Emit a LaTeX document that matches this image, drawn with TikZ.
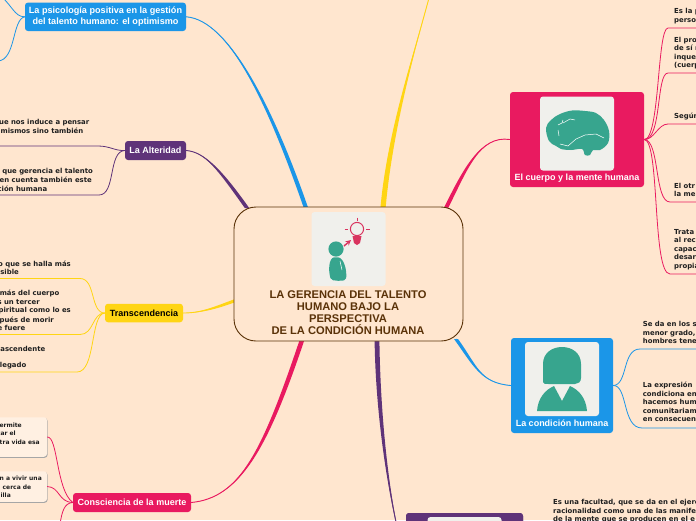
\documentclass[tikz,border=0pt]{standalone}
\usepackage{fontspec}
\setmainfont{Liberation Sans}
\newfontfamily\smallfont{DejaVu Sans}
\usetikzlibrary{calc}
\definecolor{bgc}{HTML}{FFE6CF}
\definecolor{bluec}{HTML}{1B96E8}
\definecolor{pinkc}{HTML}{E91A60}
\definecolor{purpc}{HTML}{5F3379}
\definecolor{yelc}{HTML}{FFD514}
\definecolor{brownc}{HTML}{5A3208}
\definecolor{imgc}{HTML}{F0F0EC}
\definecolor{tealc}{HTML}{37A58E}
\definecolor{cardc}{HTML}{FFF0E2}
\definecolor{bulbc}{HTML}{D9345F}
\tikzset{
  topic/.style={rounded corners=3pt,inner sep=0pt,font=\bfseries\fontsize{9}{11}\selectfont,align=center},
  imgbox/.style={fill=imgc,rounded corners=3pt,minimum width=74pt,minimum height=74pt,inner sep=0pt},
  br/.style={line width=.8pt},
  tx/.style={font=\smallfont\bfseries\fontsize{6.9}{8.55}\selectfont,text=black!88,inner sep=0pt,align=left,anchor=north west},
  txr/.style={font=\smallfont\bfseries\fontsize{6.9}{8.55}\selectfont,text=black!88,inner sep=0pt,anchor=east},
  txc/.style={font=\smallfont\bfseries\fontsize{6}{8.5}\selectfont,text=black!88,inner sep=0pt,anchor=east},
  card/.style={fill=cardc,rounded corners=3pt,inner sep=0pt},
}
% trunk: colour, start, control 1, control 2, end, half-width vector
\newcommand\trunk[6]{%
  \fill[#1] (#2) .. controls (#3) and ($(#4)+(#6)$) .. ($(#5)+(#6)$)
     -- ($(#5)-(#6)$) .. controls ($(#4)-(#6)$) and (#3) .. (#2) -- cycle;
  \draw[#1,line width=.9pt] (#2) .. controls (#3) and (#4) .. (#5);
}
\begin{document}
\begin{tikzpicture}[x=1pt,y=-1pt]
\useasboundingbox (0,0) rectangle (696,520);
\clip (0,0) rectangle (696,520);
\fill[bgc] (0,0) rectangle (696,520);

% main nodes
\node[topic,fill=bluec,text=white,minimum width=161pt,minimum height=28.5pt] (psi) at (105.5,16.8) {};
\node[topic,fill=purpc,text=white,minimum width=61pt,minimum height=19pt] (alt) at (155.5,150.5) {La Alteridad};
\node[topic,fill=yelc,text=black,minimum width=78pt,minimum height=18.5pt] (tra) at (144,313) {Transcendencia};
\node[topic,fill=pinkc,text=white,minimum width=118pt,minimum height=19pt] (con) at (132,502.5) {Consciencia de la muerte};
\node[topic,fill=pinkc,minimum width=134pt,minimum height=95pt] (cue) at (577,139.5) {};
\node[topic,fill=bluec,minimum width=102pt,minimum height=95pt] (cond) at (562,385.5) {};
\node[topic,fill=purpc,minimum width=117pt,minimum height=95pt] (fac) at (464.5,560.5) {};

\node[topic,text=white,align=center,font=\bfseries\fontsize{9.1}{10.2}\selectfont] (psit) at (105.5,16.6) {La psicología positiva en la gestión\\del talento humano: el optimismo};

% connection points on the central box
\coordinate (cA) at (306,208);
\coordinate (cB) at (247,208);
\coordinate (cC) at (234,301);
\coordinate (cD) at (302,340);
\coordinate (cE) at (377,340);
\coordinate (cF) at (456,339);
\coordinate (cG) at (446,208);
\coordinate (cH) at (383,208);
\coordinate (yt) at (429,-2);

% trunks
\trunk{bluec}{psi.east}{230,20}{272,110}{cA}{2.2,0}
\trunk{purpc}{alt.east}{205,152}{220,170}{cB}{2.2,0}
\trunk{yelc}{tra.east}{200,313}{215,308}{cC}{0,1.6}
\trunk{pinkc}{con.east}{240,498}{265,450}{cD}{2.4,0}
\trunk{purpc}{fac.west}{390,510}{378,420}{cE}{2.4,0}
\trunk{bluec}{cond.west}{480,383}{475,365}{cF}{2,0}
\trunk{pinkc}{cue.west}{480,135}{465,170}{cG}{2.2,0}
\trunk{yelc}{yt}{415,50}{390,130}{cH}{2.6,0}
% the boxes lie over the trunk ends
\node[topic,fill=purpc,minimum width=117pt,minimum height=95pt] at (fac) {};

% central topic
\node[draw=brownc,line width=.9pt,fill=bgc,rounded corners=22pt,minimum width=229pt,minimum height=134pt,inner sep=0pt] (main) at (348.5,274) {};
\node[imgbox] (mimg) at (348.5,249) {};
\node[inner sep=0pt,align=center,text=brownc,font=\bfseries\fontsize{11.15}{12}\selectfont] (mtext) at (348,313) {LA GERENCIA DEL TALENTO\\HUMANO BAJO LA\\PERSPECTIVA\\DE LA CONDICIÓN HUMANA};

% central icon
\fill[tealc] (336,249) circle (7.6);
\fill[tealc,rounded corners=2pt] (331,280) .. controls (328,270) and (329,258) .. (336,257) .. controls (344,258) and (347,270) .. (346,280) -- (340,281) -- cycle;
\draw[white,line width=.5pt] (340,261) -- (342,270);
\draw[bulbc,line width=1pt] (357,229) circle (6.6);
\fill[bulbc] (352.5,236) -- (361.5,236) -- (360,243) -- (357,245) -- (354,243) -- cycle;
\draw[bulbc,line width=1pt] (357,217.5) -- (357,220.5) (344.5,229) -- (348,229) (366,229) -- (369.5,229);
\draw[-stealth,bulbc,line width=1.4pt] (344,246) -- (351,240);

% right topic images
\node[imgbox] (bimg) at (577,133.5) {};
\node[imgbox] (cimg) at (562,379) {};
\node[imgbox] (fimg) at (464.5,554) {};
\node[inner sep=0pt,text=white,font=\bfseries\fontsize{9}{11}\selectfont] (cuet) at (577,178) {El cuerpo y la mente humana};
\node[inner sep=0pt,text=white,font=\bfseries\fontsize{9}{11}\selectfont] (condt) at (562,423) {La condición humana};

% brain
\fill[tealc] plot[smooth cycle,tension=.6] coordinates {(546,128) (551,120) (560,114) (572,110.5) (585,111) (596,113) (604,120) (609,131) (608,143) (600,150) (593,150) (590,155) (585,155) (582,149) (571,150) (561,149) (556,146) (549,141)};
\draw[white,line width=.5pt] (558,125) -- (562,123) -- (563,120) (563,123) -- (570,119) -- (575,120) (559,136) -- (558,130) (560,144) -- (568,146) -- (576,139) -- (585,135) -- (596,134) -- (604,138);

% female person
\fill[tealc] (543,382) -- (543,364) .. controls (543,353) and (552,347) .. (562,347) .. controls (572,347) and (581,353) .. (581,364) -- (581,378) .. controls (581,382) and (578,384) .. (575,384) -- (549,384) .. controls (545,384) and (543,384) .. (543,382) -- cycle;
\fill[tealc] (537,411) .. controls (538,398) and (545,390) .. (554,386) -- (562,401) -- (570,386) .. controls (579,390) and (586,398) .. (587,411) -- cycle;

% left branches
\coordinate (l1) at (-2,-6);
\coordinate (l2) at (-2,61);
\draw[br,bluec] (psi.west) .. controls (14,17) and (12,4) .. (l1);
\draw[br,bluec] (psi.west) .. controls (12,19) and (16,60) .. (l2);
\coordinate (l3) at (0,146);
\coordinate (l4) at (0,195);
\draw[br,purpc] (alt.west) .. controls (115,151) and (110,146) .. (98,146) -- (l3);
\draw[br,purpc] (alt.west) .. controls (108,151) and (116,195) .. (99,195) -- (l4);
\coordinate (l5) at (0,278.5);
\coordinate (l6) at (0,334.5);
\coordinate (l7) at (0,372);
\draw[br,yelc] (tra.west) .. controls (90,313) and (96,278.5) .. (80,278.5) -- (l5);
\draw[br,yelc] (tra.west) .. controls (92,313) and (94,334.5) .. (80,334.5) -- (l6);
\draw[br,yelc] (tra.west) .. controls (90,314) and (96,372) .. (77,372) -- (l7);

% cards
\fill[black!35,rounded corners=3pt] (-5,418) rectangle (47.6,457.8);
\node[card,minimum width=52pt,minimum height=39.5pt] (c1) at (21,437) {};
\fill[black!35,rounded corners=3pt] (-5,472) rectangle (47.6,502.8);
\node[card,minimum width=52pt,minimum height=30.5pt] (c2) at (21,486.5) {};
\coordinate (l8) at (60,524);
\draw[br,pinkc] (c1.east) .. controls (58,436) and (56,490) .. (con.west);
\draw[br,pinkc] (c2.east) .. controls (60,487) and (58,502) .. (con.west);
\draw[br,pinkc] (con.west) .. controls (64,503) and (62,512) .. (l8);

% right branches
\coordinate (r1) at (696,28);
\coordinate (r2) at (696,73);
\coordinate (r3) at (696,124);
\coordinate (r4) at (696,202);
\coordinate (r5) at (696,274);
\draw[br,pinkc] (cue.east) .. controls (660,140) and (657,28) .. (668,28) -- (r1);
\draw[br,pinkc] (cue.east) .. controls (662,140) and (656,73) .. (668,73) -- (r2);
\draw[br,pinkc] (cue.east) .. controls (654,140) and (658,124) .. (668,124) -- (r3);
\draw[br,pinkc] (cue.east) .. controls (660,140) and (654,202) .. (670,202) -- (r4);
\draw[br,pinkc] (cue.east) .. controls (660,140) and (652,274) .. (670,274) -- (r5);
\coordinate (r6) at (696,349);
\coordinate (r7) at (696,428);
\draw[br,bluec] (cond.east) .. controls (628,385) and (622,349) .. (640,349) -- (r6);
\draw[br,bluec] (cond.east) .. controls (628,385) and (622,428) .. (642,428) -- (r7);

% texts on the left, cut by the picture edge
\node[txr] (t1) at (89.5,122.3) {ue nos induce a pensar};
\node[txr] (t2) at (83.5,130.5) {mismos sino también};
\node[txr] (t3) at (93,171.5) {que gerencia el talento};
\node[txr] (t4) at (92,180) {en cuenta también este};
\node[txr] (t5) at (47.5,188.5) {ción humana};
\node[txr] (t6) at (71,264) {o que se halla más};
\node[txr] (t7) at (19,272) {sible};
\node[txr] (t8) at (59.5,293.5) {más del cuerpo};
\node[txr] (t9) at (40,302.5) {s un tercer};
\node[txr] (t10) at (71,311) {piritual como lo es};
\node[txr] (t11) at (54,320) {pués de morir};
\node[txr] (t12) at (25.5,328) {e fuere};
\node[txr] (t13) at (45.5,348.5) {ascendente};
\node[txr] (t14) at (26.5,366) {legado};
\node[txc] (t15) at (22,425.5) {permite};
\node[txc] (t16) at (16,433.5) {car el};
\node[txc] (t17) at (40,442) {stra vida esa};
\node[txc] (t18) at (42,478.5) {an a vivir una};
\node[txc] (t19) at (31.5,487) {cerca de};
\node[txc] (t20) at (11,495) {illa};

% texts on the right, cut by the picture edge
\node[tx] (t21) at (674,8.5) {Es la p\\perso};
\node[tx] (t22) at (674,36.8) {El pro\\de sí r\\inque\\(cuerp};
\node[tx] (t23) at (674,113) {Según};
\node[tx] (t24) at (674,182.8) {El otr\\la me};
\node[tx] (t25) at (674,229) {Trata\\al rec\\capac\\desar\\propia};
\node[tx] (t26) at (642.7,321.3) {Se da en los s\\menor grado,\\hombres tene};
\node[tx] (t27) at (642.7,382) {La expresión\\condiciona en\\hacemos hum\\comunitariam\\en consecuen};
\node[tx] (t28) at (553,499) {Es una facultad, que se da en el ejerci\\racionalidad como una de las manifes\\de la mente que se producen en el e};
\end{tikzpicture}
\end{document}
